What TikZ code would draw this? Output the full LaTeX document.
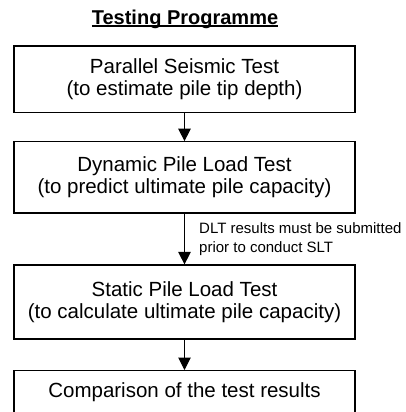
\documentclass[tikz,border=0pt]{standalone}
\usepackage{fontspec}
\setmainfont{Liberation Sans}
\usetikzlibrary{arrows.meta}
% heading with a thicker rule underneath
\newcommand{\headrule}[1]{{\setbox0\hbox{#1}\rlap{\rule[-2.6pt]{\wd0}{1.6pt}}\box0}}
\begin{document}
\begin{tikzpicture}[x=1pt,y=-1pt,
  stagebox/.style={draw, line width=1.2pt, minimum width=341pt, align=center,
    inner sep=0pt, font=\fontsize{20.5}{22.5}\selectfont},
  flow/.style={-{Triangle[width=12.5pt,length=12.5pt]}, line width=1pt},
  notetext/.style={anchor=west, align=left, inner sep=0pt, font=\fontsize{15}{19}\selectfont}]
\useasboundingbox (0,0) rectangle (406,412);
\clip (0,0) rectangle (406,412);

\node[font=\bfseries\fontsize{20}{22}\selectfont, inner sep=0pt] (title) at (185,19)
  {\headrule{Testing Programme}};

\node[stagebox, minimum height=66.7pt] (seismic) at (184.5,79.4)
  {Parallel Seismic Test\\(to estimate pile tip depth)};
\node[stagebox, minimum height=71.3pt] (dynamic) at (184.5,177.4)
  {Dynamic Pile Load Test\\(to predict ultimate pile capacity)};
\node[stagebox, minimum height=74pt] (static) at (184.5,302)
  {Static Pile Load Test\\(to calculate ultimate pile capacity)};
\node[stagebox, text height=27pt, text depth=28pt, anchor=north] (compare) at (184.5,370)
  {Comparison of the test results};

\draw[flow] (seismic) -- (dynamic);
\draw[flow] (dynamic) -- (static);
\draw[flow] (static) -- (compare);

\node[notetext] (note) at (199,239.5)
  {DLT results must be submitted\\prior to conduct SLT};
\end{tikzpicture}
\end{document}
